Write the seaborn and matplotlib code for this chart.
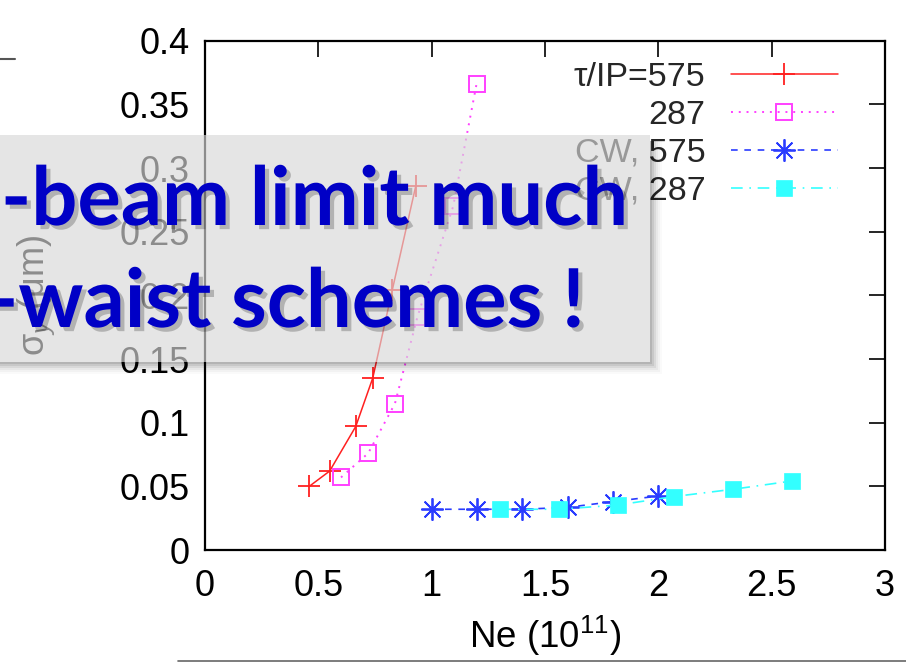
import matplotlib
matplotlib.use("Agg")
import matplotlib.pyplot as plt
import seaborn as sns
import pandas as pd
import numpy as np
from matplotlib.patches import Rectangle
from matplotlib.lines import Line2D
import matplotlib.patheffects as pe
from matplotlib.ticker import FormatStrFormatter

# ---------------- data ----------------
ne_575 = [0.46, 0.55, 0.665, 0.74, 0.826, 0.93]
sig_575 = [0.050, 0.062, 0.097, 0.135, 0.204, 0.286]

ne_287 = [0.60, 0.72, 0.838, 0.937, 1.095, 1.198]
sig_287 = [0.057, 0.076, 0.115, 0.183, 0.270, 0.366]

ne_cw575 = [1.0, 1.2, 1.4, 1.6, 1.8, 2.0]
sig_cw575 = [0.032, 0.032, 0.032, 0.0335, 0.038, 0.0424]

ne_cw287 = [1.3, 1.56, 1.82, 2.07, 2.33, 2.59]
sig_cw287 = [0.032, 0.032, 0.0353, 0.042, 0.0477, 0.0542]

labels = ["τ/IP=575", "287", "CW, 575", "CW, 287"]
xticks = [0, 0.5, 1, 1.5, 2, 2.5, 3]
yticks = [0, 0.05, 0.1, 0.15, 0.2, 0.25, 0.3, 0.35, 0.4]
overlay_lines = ["-beam limit much", "-waist schemes !"]

# ---------------- style ----------------
sns.set_theme(style="white")
FONT = ["Liberation Sans", "DejaVu Sans"]
plt.rcParams["font.family"] = FONT
plt.rcParams["mathtext.fontset"] = "custom"
plt.rcParams["mathtext.rm"] = "Liberation Sans"
plt.rcParams["mathtext.it"] = "Liberation Sans:italic"
plt.rcParams["mathtext.bf"] = "Liberation Sans:bold"

W, H = 906, 662
fig = plt.figure(figsize=(W / 100, H / 100), dpi=100)
fig.patch.set_facecolor("white")

ax_l, ax_r, ax_t, ax_b = 205, 885, 40.7, 550
ax = fig.add_axes([ax_l / W, 1 - ax_b / H, (ax_r - ax_l) / W, (ax_b - ax_t) / H])
ax.set_facecolor("white")

colors = ["#ff2020", "#ff40ff", "#2a3cff", "#33ffff"]
styles = [
    dict(marker="+", markersize=16, markeredgewidth=1.3, linestyle="-", linewidth=1.1,
         markerfacecolor="none"),
    dict(marker="s", markersize=12, markerfacecolor="none", markeredgewidth=1.4,
         linestyle=(0, (1, 3)), linewidth=1.4),
    dict(marker=(8, 2, 0), markersize=16, markeredgewidth=1.3, linestyle=(0, (4, 4)),
         linewidth=1.2, markerfacecolor="none"),
    dict(marker="s", markersize=12, markeredgewidth=0.5, linestyle=(0, (7, 4, 1, 4)),
         linewidth=1.2),
]
data = [(ne_575, sig_575), (ne_287, sig_287), (ne_cw575, sig_cw575), (ne_cw287, sig_cw287)]
for (xs, ys), col, kw, lab in zip(data, colors, styles, labels):
    df = pd.DataFrame({"Ne": xs, "sigma": ys})
    sns.lineplot(data=df, x="Ne", y="sigma", ax=ax, label=lab, color=col,
                 markeredgecolor=col, **kw)

ax.set_xlim(0, 3)
ax.set_ylim(0, 0.4)
ax.set_xticks(xticks)
ax.set_yticks(yticks)
ax.xaxis.set_major_formatter(FormatStrFormatter("%g"))
ax.yaxis.set_major_formatter(FormatStrFormatter("%g"))
for s in ax.spines.values():
    s.set_color("black")
    s.set_linewidth(1.6)
ax.tick_params(axis="both", which="major", direction="in", length=11.5, width=1.2,
               top=True, right=True, colors="black", labelsize=26, labelcolor="black")
ax.tick_params(axis="x", pad=14)
ax.tick_params(axis="y", pad=11)
ax.grid(False)

ax.set_xlabel("Ne (10$^{11}$)", fontsize=26.5, color="black", labelpad=7)
ax.set_ylabel("σ$_y$ (μm)", fontsize=26, color="black")
ax.yaxis.set_label_coords((57 - ax_l) / (ax_r - ax_l), 0.5)

leg = ax.legend(loc="upper right", bbox_to_anchor=(0.931, 0.958), frameon=False,
                markerfirst=False, numpoints=1, handlelength=3.15, handletextpad=0.75,
                labelspacing=0.2, borderaxespad=0, borderpad=0,
                prop={"family": FONT, "size": 24.5})

# ---------------- slide overlay ----------------
ov = fig.add_axes([0, 0, 1, 1], zorder=10)
ov.set_xlim(0, W)
ov.set_ylim(H, 0)
ov.axis("off")
ov.patch.set_alpha(0)

bx0, by0, bx1, by1 = -5, 135, 650, 362
for i, a in enumerate([0.10, 0.08, 0.06, 0.04, 0.03, 0.02]):
    w = 2 * (i + 1)
    ov.add_patch(Rectangle((bx1, by0 + 6), w, (by1 - by0 - 6) + w, facecolor="black",
                           edgecolor="none", alpha=a))
    ov.add_patch(Rectangle((bx0, by1), bx1 - bx0, w, facecolor="black", edgecolor="none", alpha=a))
ov.add_patch(Rectangle((bx0, by0), bx1 - bx0, by1 - by0, facecolor="#d8d8d8",
                       edgecolor="none", alpha=0.65))

shadow = [pe.withSimplePatchShadow(offset=(3, -3), shadow_rgbFace="black", alpha=0.22)]
ov.text(1, 225, overlay_lines[0], fontsize=58.5, fontweight="bold", family=["Lato", "DejaVu Sans"],
        color="#0000c6", ha="left", va="baseline", path_effects=shadow)
ov.text(-12, 327, overlay_lines[1], fontsize=58.5, fontweight="bold", family=["Lato", "DejaVu Sans"],
        color="#0000c6", ha="left", va="baseline", path_effects=shadow)

ov.add_line(Line2D([0, 15], [59, 59], color="#555555", linewidth=1.5))
ov.add_line(Line2D([178, 906], [660.5, 660.5], color="#666666", linewidth=1.2))

fig.savefig("out.png", dpi=100, facecolor="white")
